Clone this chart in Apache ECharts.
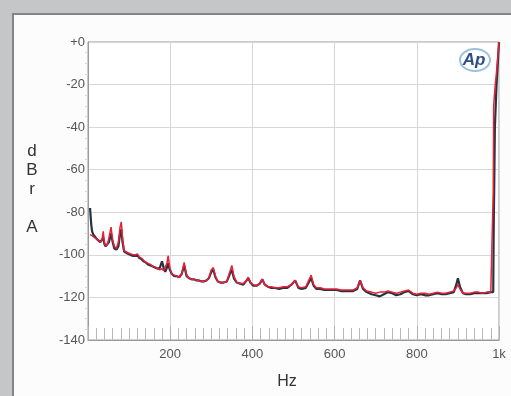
<!DOCTYPE html>
<html>
<head>
<meta charset="utf-8">
<script src="https://cdn.jsdelivr.net/npm/echarts@6/dist/echarts.min.js"></script>
<style>html,body{margin:0;padding:0;background:#c4c6c8;}#c{width:511px;height:396px;}</style>
</head>
<body>
<div id="c"></div>
<script>
const freq = [5,8,10,13,17,21,25,30,34,37,40,43,47,51,56,60,64,69,74,78,81,84,88,92,97,103,110,115,120,125,130,135,140,146,152,158,164,170,175,180,184,188,192,195,199,204,210,216,222,228,234,240,246,252,258,264,270,276,282,288,294,300,305,310,316,322,330,338,345,350,355,362,370,378,386,390,395,402,410,418,424,430,438,446,455,465,475,485,495,504,512,520,530,537,543,549,556,565,575,585,595,605,615,625,635,645,655,662,669,678,690,700,710,720,730,740,750,760,770,780,790,800,810,820,830,840,850,860,870,880,890,896,900,905,912,920,930,940,950,960,970,980,984,986,987,990,994,1000];
const redDb = [-90.5,-90.5,-91,-91.5,-92,-92.5,-93,-94,-93,-89,-94,-96,-95,-92,-87,-93,-96,-97,-94,-87,-84.5,-92,-98,-98.5,-99,-99.5,-100,-100,-99.5,-101,-101.5,-102.5,-103.5,-104,-104.5,-105.5,-106,-106.5,-107,-106.5,-107.5,-108,-104,-100.5,-106,-109,-109.5,-110,-110.5,-109,-103.5,-109.5,-111,-111.5,-111.5,-112,-112,-112.5,-112.5,-112,-111,-107,-106,-110,-112.5,-113,-113,-112.5,-108,-105,-110,-113,-113.5,-113.5,-112,-110.5,-113,-114,-114.5,-113.5,-111.5,-114,-115,-115,-115.5,-115.5,-115,-115,-114,-112,-115,-115.5,-115,-112,-109.5,-114,-115.5,-115.5,-116,-116,-116,-116,-116.5,-116.5,-116.5,-116.5,-115.5,-112,-115.5,-117,-117.5,-118,-117.5,-117.5,-117,-117.5,-118,-117.5,-117,-116.5,-118,-118.5,-118,-118,-118.5,-118,-117.5,-118,-118,-117.5,-117,-115.5,-114,-116,-118,-118,-118,-117.5,-117.5,-118,-117.5,-117.5,-117.5,-70,-30,-22,-14,0];
const darkDb = [-78,-86,-89,-90.5,-91.5,-92.5,-93,-94,-94,-92,-95,-96,-96,-94,-90,-94,-97,-97.5,-96,-90,-88,-94,-98.5,-99,-99.5,-100,-100.5,-100.5,-100,-101.5,-102,-103,-103.5,-104.5,-105,-105.5,-106,-106.5,-106,-103,-106,-108,-106,-104,-107,-109,-110,-110,-110.5,-109,-105,-110,-111,-111.5,-111.5,-112,-112,-112.5,-112.5,-112,-111,-108,-107,-110.5,-112.5,-113,-113,-112.5,-109,-107,-111,-113,-113.5,-114,-112,-111,-113,-114.5,-114.5,-113.5,-111.5,-114,-115,-115.5,-115.5,-116,-115.5,-115.5,-114,-112,-115.5,-116,-115.5,-113,-111,-114.5,-116,-116,-116.5,-116.5,-116.5,-116.5,-117,-117,-117,-117,-116,-112,-116,-117.5,-118.5,-119,-119.5,-118.5,-117.5,-118,-119,-118.5,-117.5,-117,-118.5,-119,-118.5,-119,-119,-118.5,-118,-118.5,-118.5,-118,-117.5,-114,-111,-115,-118,-118.5,-118.5,-118,-118,-118,-118,-117.5,-117.5,-117.5,-90,-40,-20,0];
const xTicks = [200,400,600,800,1000];
const yTicks = [0,-20,-40,-60,-80,-100,-120,-140];

const chart = echarts.init(document.getElementById('c'), null, {renderer:'canvas'});
const font = 'Liberation Sans, Arial, sans-serif';
chart.setOption({
  animation:false,
  backgroundColor:'#c4c6c8',
  graphic:[
    {type:'rect', z:-10, shape:{x:13,y:14,width:520,height:400}, style:{fill:'#fcfcfc', stroke:'#858585', lineWidth:2}},
    {type:'text', z:10, style:{x:32, y:142, text:'d\nB\nr\n\nA', fontSize:17, lineHeight:19, fontFamily:font, fill:'#333', align:'center', verticalAlign:'top'}},
    {type:'text', z:10, style:{x:287, y:382, text:'Hz', fontSize:16, fontFamily:font, fill:'#333', align:'center', verticalAlign:'middle'}},
    {type:'ellipse', z:10, shape:{cx:475, cy:60, rx:15, ry:11}, style:{fill:'rgba(0,0,0,0)', stroke:'#9cc0de', lineWidth:2}},
    {type:'text', z:11, style:{x:474, y:60, text:'Ap', fontSize:17, fontStyle:'italic', fontWeight:'bold', fontFamily:font, fill:'#2d4f86', align:'center', verticalAlign:'middle'}}
  ],
  grid:{left:88, right:12, top:42, bottom:56, show:true, backgroundColor:'#ffffff', borderColor:'#9a9a9a', borderWidth:1},
  xAxis:{
    type:'value', min:0, max:1000, interval:200,
    axisLine:{show:true, onZero:false, lineStyle:{color:'#9a9a9a'}},
    axisTick:{show:true, inside:true, length:14, lineStyle:{color:'#b0b0b0'}},
    minorTick:{show:true, splitNumber:10, length:12, lineStyle:{color:'#b8b8b8'}},
    splitLine:{show:true, lineStyle:{color:'#d6d6d6'}},
    axisLabel:{margin:8, fontSize:13, color:'#555', fontFamily:font,
      formatter:v=> v===0 ? '' : (v===1000 ? '1k' : String(v))}
  },
  yAxis:{
    type:'value', min:-140, max:0, interval:20,
    axisLine:{show:true, onZero:false, lineStyle:{color:'#9a9a9a'}},
    axisTick:{show:false},
    minorTick:{show:true, splitNumber:4, length:3, lineStyle:{color:'#d8d8d8'}},
    splitLine:{show:true, lineStyle:{color:'#d6d6d6'}},
    axisLabel:{margin:3, fontSize:13, color:'#555', fontFamily:font,
      formatter:v=> v===0 ? '+0' : String(v)}
  },
  series:[
    {type:'line', name:'B', showSymbol:false, data:freq.map((f,i)=>[f,darkDb[i]]), lineStyle:{color:'#26343f', width:2.2}, z:3},
    {type:'line', name:'A', showSymbol:false, data:freq.map((f,i)=>[f,redDb[i]]), lineStyle:{color:'#e8203a', width:1.5}, z:4}
  ]
});
</script>
</body>
</html>
